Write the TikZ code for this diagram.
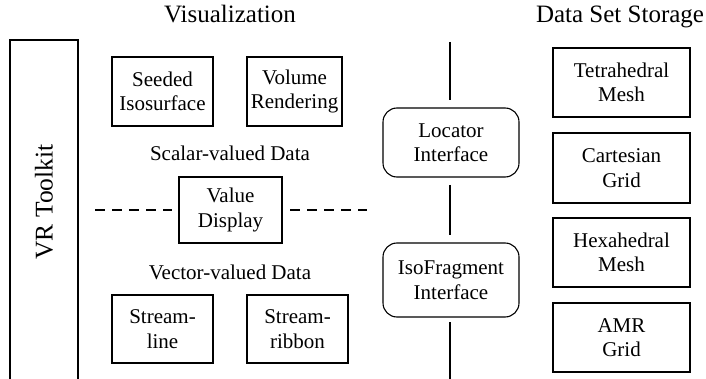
\documentclass[tikz,border=0pt]{standalone}
\usepackage{fontspec}
\setmainfont{Liberation Serif}
\begin{document}
\begin{tikzpicture}[x=1pt,y=-1pt,
  lbl/.style={font=\fontsize{21}{24.5}\selectfont, align=center, inner sep=0pt},
  box/.style={lbl, draw, line width=1.1pt},
  rbox/.style={box, rounded corners=14pt},
  head/.style={font=\fontsize{25}{29}\selectfont, inner sep=0pt},
  bar/.style={line width=2.8pt},
  dashline/.style={line width=1.8pt, dash pattern=on 10pt off 7pt}]
\useasboundingbox (0,0) rectangle (706,379);

% headings
\node[head, anchor=base] (vis) at (230,23) {Visualization};
\node[head, anchor=base] (dss) at (620,23) {Data Set Storage};

% toolkit frame, open at the bottom
\draw[line width=1.1pt] (10,379) -- (10,40) -- (78,40) -- (78,379);
\node[head, font=\fontsize{25.5}{30}\selectfont, rotate=90] (vr) at (44,202) {VR Toolkit};

% visualization modules
\node[box, minimum width=101pt, minimum height=69pt] (seed) at (162.5,91.5) {Seeded\\Isosurface};
\node[box, minimum width=95pt, minimum height=69pt] (vol) at (294.5,91.5) {Volume\\Rendering};
\node[lbl, anchor=base] (scalar) at (230,161) {Scalar-valued Data};
\node[box, minimum width=103pt, minimum height=66pt] (val) at (230.5,210) {Value\\Display};
\node[lbl, anchor=base] (vector) at (230,279) {Vector-valued Data};
\node[box, minimum width=101pt, minimum height=68pt] (sline) at (162.5,329) {Stream-\\line};
\node[box, minimum width=101pt, minimum height=68pt] (sribbon) at (297.5,329) {Stream-\\ribbon};

% dashed separator on both sides of the value display
\coordinate (dl) at (95,210);
\coordinate (dr) at (367,210);
\draw[dashline] (dl) -- (val.west -| 172,0);
\draw[dashline] (val.east -| 290,0) -- (dr);

% interfaces
\node[rbox, minimum width=136pt, minimum height=69pt] (loc) at (451,142.5) {Locator\\Interface};
\node[rbox, minimum width=136pt, minimum height=74pt] (iso) at (451,280) {IsoFragment\\Interface};

% vertical divider broken by the interfaces
\coordinate (b1a) at (450,42);  \coordinate (b1b) at (450,100);
\coordinate (b2a) at (450,185); \coordinate (b2b) at (450,235);
\coordinate (b3a) at (450,322); \coordinate (b3b) at (450,379);
\draw[bar] (b1a) -- (b1b);
\draw[bar] (b2a) -- (b2b);
\draw[bar] (b3a) -- (b3b);

% storage types
\node[box, minimum width=137pt, minimum height=69pt] (tet) at (621.5,82.5) {Tetrahedral\\Mesh};
\node[box, minimum width=137pt, minimum height=70pt] (cart) at (621.5,168) {Cartesian\\Grid};
\node[box, minimum width=137pt, minimum height=69pt] (hex) at (621.5,252.5) {Hexahedral\\Mesh};
\node[box, minimum width=137pt, minimum height=69pt] (amr) at (621.5,337.5) {AMR\\Grid};
\end{tikzpicture}
\end{document}
